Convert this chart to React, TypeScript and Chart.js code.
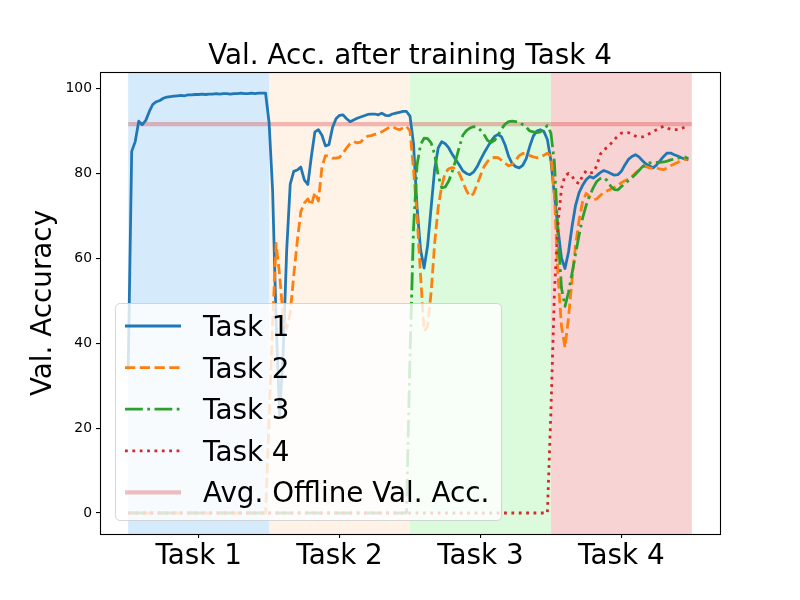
import { useEffect, useRef } from "react";
import { Chart, registerables } from "chart.js";

Chart.register(...registerables);

const FONT = "'DejaVu Sans', 'Liberation Sans', sans-serif";
const BIG = 27.8;

// ---- data ----
const EPOCHS_PER_TASK = 40;
const taskNames = ["Task 1", "Task 2", "Task 3", "Task 4"];
const yTickValues = [0, 20, 40, 60, 80, 100];
const offlineAvgAcc = 91.6;

const notTrainedYet = [
  0, 0, 0, 0, 0, 0, 0, 0, 0, 0, 0, 0, 0, 0, 0, 0, 0, 0, 0, 0,
  0, 0, 0, 0, 0, 0, 0, 0, 0, 0, 0, 0, 0, 0, 0, 0, 0, 0, 0, 0,
];

const task1Acc = [
  // training Task 1
  33.7, 85.2, 87.5, 92.3, 91.5, 92.5, 94.6, 96.3, 96.9, 97.2, 97.7, 98.0, 98.1, 98.2, 98.3, 98.4, 98.3, 98.5, 98.5, 98.6,
  98.6, 98.7, 98.6, 98.7, 98.7, 98.8, 98.7, 98.8, 98.8, 98.7, 98.8, 98.8, 98.9, 98.8, 98.8, 98.9, 98.8, 98.9, 98.9, 98.9,
  // training Task 2
  92, 76, 45, 23, 38, 62, 77.5, 80.5, 80.8, 81.5, 78.5, 77.4, 84, 89.8, 90.3, 89, 86.5, 86.8, 90.8, 92.9,
  93.7, 93.8, 92.9, 92.2, 92.6, 93.0, 93.3, 93.6, 93.9, 94.0, 94.0, 93.8, 94.2, 93.7, 93.6, 94.0, 94.2, 94.4, 94.6, 94.6,
  // training Task 3
  93.5, 87, 72, 62, 57.7, 63, 72, 81, 86, 87.5, 87, 86, 84.5, 83.2, 82, 80.6, 80, 79.7, 80.3, 81.5,
  83.2, 84.8, 86.2, 87.6, 88.7, 89.2, 88.6, 86.7, 84, 82.3, 81.6, 81.3, 81.9, 83.5, 86.4, 88.8, 90, 90.3, 89.9, 88,
  // training Task 4
  83, 75, 67, 60, 57.6, 61.5, 67.5, 72.5, 75.5, 77.2, 78.5, 79.3, 78.9, 79.5, 80.2, 80.7, 80.4, 80, 79.6, 79.7,
  80.5, 82, 83.3, 84, 84.4, 83.9, 83, 82.2, 81.8, 81.3, 82, 83, 84, 84.8, 84.8, 84.4, 84.1, 83.7, 83.4, 83.2,
];

const task2Acc = [
  ...notTrainedYet,
  22, 45, 63.5, 56, 46, 43.5, 47, 56, 64, 71, 73, 74, 72.5, 75.5, 73.5, 81.5, 84.2, 84, 83.6, 83.6,
  83.8, 84.8, 86, 87, 87.5, 87.2, 87.4, 88.3, 88.8, 88.9, 89.2, 89.4, 89.8, 90.3, 90.8, 91, 90.6, 90.3, 90.7, 91.1,
  90, 81, 70, 56, 42.8, 44, 52, 63.5, 72, 77, 80.2, 81.1, 81.4, 81.1, 80, 78, 76, 74.6, 75.2, 77.3,
  79.5, 81.6, 82.8, 83.6, 83.8, 83.7, 83.1, 82.4, 81.8, 82.1, 83.1, 84.2, 84.7, 84.7, 84.2, 83.9, 83.7, 83.9, 84.3, 84.8,
  84, 75, 56, 44, 39, 46, 55, 63, 69, 73.3, 75.3, 74.5, 73.8, 74, 74.8, 75.5, 75.9, 76.3, 76.7, 77.2,
  77.8, 78.3, 78.7, 79.3, 80.1, 80.8, 81.6, 81.6, 81.3, 81.2, 81.3, 81, 80.9, 81.3, 81.8, 82.2, 82.6, 83.1, 83.3, 83.4,
];

const task3Acc = [
  ...notTrainedYet,
  ...notTrainedYet,
  37, 67, 82, 86.8, 88.3, 88.2, 87.2, 84.5, 79.5, 76.6, 76.8, 78.2, 80.5, 83.2, 86.2, 89, 90.1, 90.7, 91, 90.9,
  90.2, 89.2, 87.8, 87.3, 87.8, 89, 90.5, 91.6, 92.2, 92.3, 92.2, 92.1, 91.5, 90.9, 90, 89.8, 89.6, 89.8, 90.4, 91.3,
  89.5, 82.5, 66, 53, 48.7, 52, 56.5, 61, 65.5, 69.5, 72.5, 74.8, 76.6, 78.1, 78.8, 79, 78.3, 77, 76.2, 76.1,
  76.9, 77.6, 78.3, 79, 79.8, 80.7, 81.6, 82.2, 82.5, 82.6, 82.6, 82.6, 82.7, 82.9, 83.2, 83.4, 83.6, 83.8, 83.9, 83.5,
];

const task4Acc = [
  ...notTrainedYet,
  ...notTrainedYet,
  ...notTrainedYet,
  24, 52, 68, 76.5, 79.5, 80, 79.4, 78, 77.6, 79.5, 80.6, 80.1, 80.2, 81.8, 84.5, 85.6, 86.1, 87, 88, 88.8,
  89.5, 89.6, 89.6, 89.3, 88.8, 88.6, 88.6, 88.9, 89.4, 89.9, 90.3, 90.8, 91.1, 90.7, 90.4, 90.3, 90.3, 90.6, 90.9, 91,
];

// ---- styles ----
const LW = 2.78;
const seriesStyles = [
  { label: "Task 1", data: task1Acc, color: "#1f77b4", dash: [] as number[] },
  { label: "Task 2", data: task2Acc, color: "#ff7f0e", dash: [10.3, 4.45] },
  { label: "Task 3", data: task3Acc, color: "#2ca02c", dash: [17.8, 4.45, 2.78, 4.45] },
  { label: "Task 4", data: task4Acc, color: "#d62728", dash: [2.78, 4.59] },
];
const avgStyle = { label: "Avg. Offline Val. Acc.", color: "rgba(214,39,40,0.3)", width: 4.2 };
const spanColors = ["#d5eafa", "#fff3e8", "#dcfadc", "#f8d3d3"];

const toPoints = (arr: number[]) => arr.map((y, i) => ({ x: i, y }));

export default function App() {
  const canvasRef = useRef<HTMLCanvasElement | null>(null);

  useEffect(() => {
    if (!canvasRef.current) return;
    const totalEpochs = EPOCHS_PER_TASK * taskNames.length;
    const xTickValues = taskNames.map((_, t) => t * EPOCHS_PER_TASK + EPOCHS_PER_TASK / 2);
    const margin = totalEpochs * 0.05;

    const spansPlugin = {
      id: "taskSpans",
      beforeDatasetsDraw(chart: any) {
        const { ctx, chartArea, scales } = chart;
        const x = scales.x;
        ctx.save();
        spanColors.forEach((c, t) => {
          const x0 = x.getPixelForValue(t * EPOCHS_PER_TASK);
          const x1 = x.getPixelForValue((t + 1) * EPOCHS_PER_TASK);
          ctx.fillStyle = c;
          ctx.fillRect(x0, chartArea.top, x1 - x0, chartArea.bottom - chartArea.top);
        });
        ctx.restore();
      },
    };

    const overlayPlugin = {
      id: "overlay",
      afterDatasetsDraw(chart: any) {
        const { ctx, chartArea } = chart;
        ctx.save();
        // spines
        ctx.strokeStyle = "#000";
        ctx.lineWidth = 1.1;
        ctx.strokeRect(
          Math.round(chartArea.left) + 0.5,
          Math.round(chartArea.top) + 0.5,
          Math.round(chartArea.right - chartArea.left),
          Math.round(chartArea.bottom - chartArea.top)
        );
        // legend
        const bx = 115.5, by = 303.5, bw = 386, bh = 217, r = 5;
        ctx.beginPath();
        ctx.moveTo(bx + r, by);
        ctx.lineTo(bx + bw - r, by);
        ctx.quadraticCurveTo(bx + bw, by, bx + bw, by + r);
        ctx.lineTo(bx + bw, by + bh - r);
        ctx.quadraticCurveTo(bx + bw, by + bh, bx + bw - r, by + bh);
        ctx.lineTo(bx + r, by + bh);
        ctx.quadraticCurveTo(bx, by + bh, bx, by + bh - r);
        ctx.lineTo(bx, by + r);
        ctx.quadraticCurveTo(bx, by, bx + r, by);
        ctx.closePath();
        ctx.fillStyle = "rgba(255,255,255,0.8)";
        ctx.fill();
        ctx.strokeStyle = "rgba(204,204,204,0.8)";
        ctx.lineWidth = 1;
        ctx.stroke();

        const entries = [
          ...seriesStyles.map((s) => ({ label: s.label, color: s.color, dash: s.dash, width: LW })),
          { label: avgStyle.label, color: avgStyle.color, dash: [] as number[], width: avgStyle.width },
        ];
        ctx.font = `${BIG}px ${FONT}`;
        ctx.textBaseline = "alphabetic";
        ctx.textAlign = "left";
        entries.forEach((e, k) => {
          const yy = 326 + k * 41.6;
          ctx.beginPath();
          ctx.setLineDash(e.dash);
          ctx.strokeStyle = e.color;
          ctx.lineWidth = e.width;
          ctx.lineCap = "butt";
          ctx.moveTo(125, yy);
          ctx.lineTo(181, yy);
          ctx.stroke();
          ctx.setLineDash([]);
          ctx.fillStyle = "#000";
          ctx.fillText(e.label, 203, yy + 10);
        });
        ctx.restore();
      },
      afterDraw(chart: any) {
        const { ctx, chartArea } = chart;
        ctx.save();
        ctx.fillStyle = "#000";
        ctx.font = `${BIG}px ${FONT}`;
        ctx.textAlign = "center";
        ctx.textBaseline = "alphabetic";
        ctx.fillText("Val. Acc. after training Task 4", (chartArea.left + chartArea.right) / 2, 64);
        ctx.translate(51, (chartArea.top + chartArea.bottom) / 2);
        ctx.rotate(-Math.PI / 2);
        ctx.fillText("Val. Accuracy", 0, 0);
        ctx.restore();
      },
    };

    const chart = new Chart(canvasRef.current, {
      type: "line",
      data: {
        datasets: [
          ...seriesStyles.map((s, k) => ({
            label: s.label,
            data: toPoints(s.data),
            borderColor: s.color,
            backgroundColor: s.color,
            borderWidth: LW,
            borderDash: s.dash,
            borderJoinStyle: "round" as const,
            borderCapStyle: "butt" as const,
            pointRadius: 0,
            tension: 0,
            fill: false,
            order: 4 - k,
          })),
          {
            label: avgStyle.label,
            data: [
              { x: 0, y: offlineAvgAcc },
              { x: totalEpochs, y: offlineAvgAcc },
            ],
            borderColor: avgStyle.color,
            backgroundColor: avgStyle.color,
            borderWidth: avgStyle.width,
            pointRadius: 0,
            tension: 0,
            fill: false,
            order: 5,
          },
        ],
      },
      options: {
        animation: false,
        responsive: true,
        maintainAspectRatio: false,
        layout: { padding: { top: 72, right: 80, left: 0, bottom: 0 } },
        plugins: { legend: { display: false }, title: { display: false }, tooltip: { enabled: false } },
        scales: {
          x: {
            type: "linear",
            min: -margin,
            max: totalEpochs + margin,
            afterBuildTicks: (axis: any) => {
              axis.ticks = xTickValues.map((v) => ({ value: v }));
            },
            afterFit: (axis: any) => {
              axis.height = 66;
            },
            ticks: {
              autoSkip: false,
              maxRotation: 0,
              padding: 2,
              color: "#000",
              font: { family: FONT, size: BIG },
              callback: (_v: any, i: number) => taskNames[i],
            },
            grid: { drawOnChartArea: false, tickLength: 4, color: "#000", lineWidth: 1.1 },
            border: { display: false },
          },
          y: {
            type: "linear",
            min: -4.95,
            max: 103.9,
            afterBuildTicks: (axis: any) => {
              axis.ticks = yTickValues.map((v) => ({ value: v }));
            },
            afterFit: (axis: any) => {
              axis.width = 100;
            },
            ticks: {
              padding: 4,
              color: "#000",
              font: { family: FONT, size: 13.9 },
              callback: (v: any) => String(v),
            },
            grid: { drawOnChartArea: false, tickLength: 4, color: "#000", lineWidth: 1.1 },
            border: { display: false },
          },
        },
      },
      plugins: [spansPlugin, overlayPlugin],
    } as any);

    return () => chart.destroy();
  }, []);

  return (
    <div style={{ position: "fixed", left: 0, top: 0, width: 800, height: 600, background: "#fff" }}>
      <canvas ref={canvasRef} />
    </div>
  );
}
